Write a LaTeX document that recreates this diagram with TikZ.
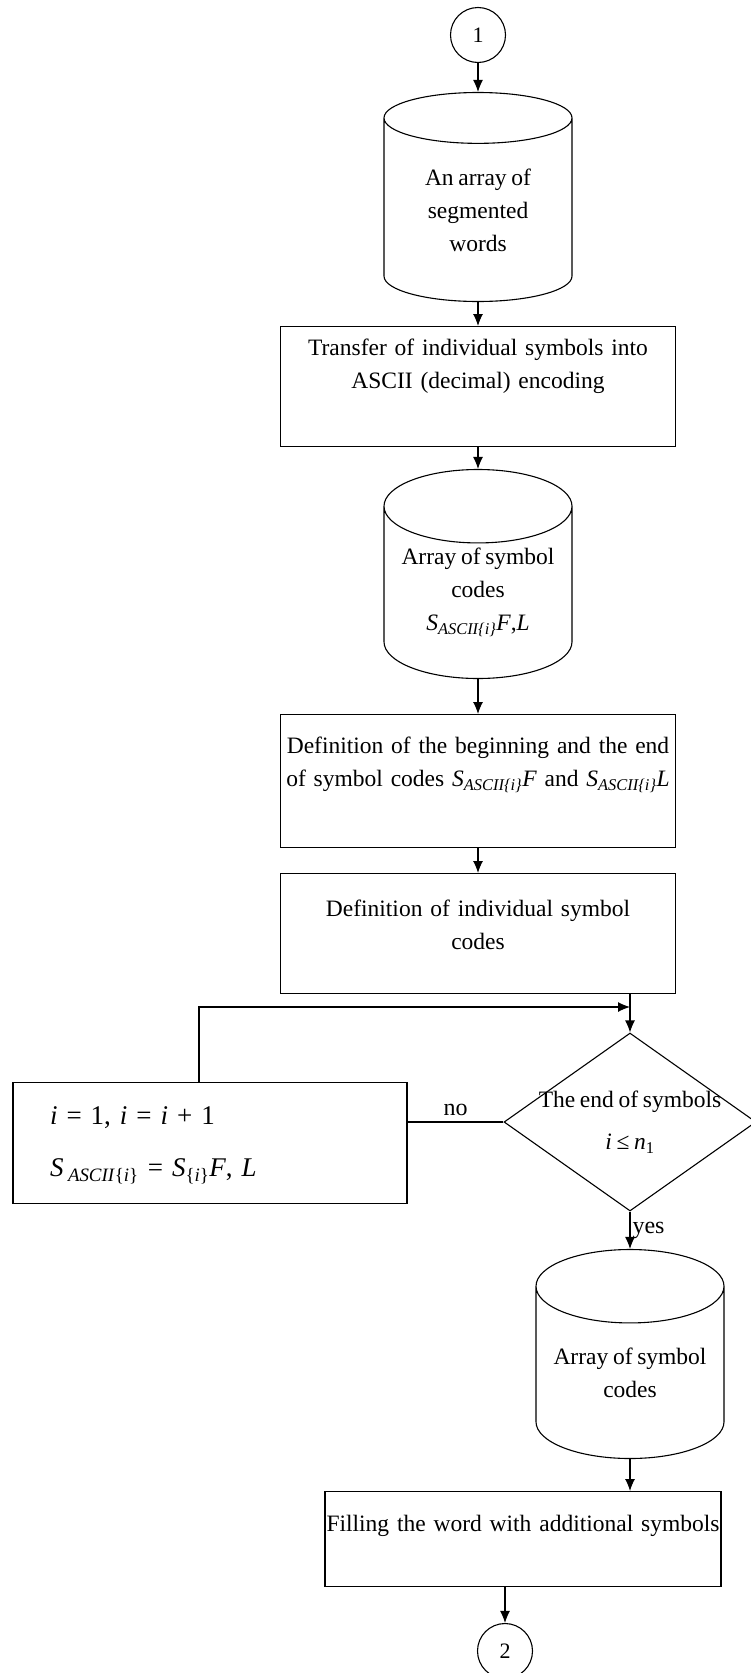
\documentclass[tikz,border=0pt]{standalone}
\usepackage{fontspec}
\setmainfont{Liberation Serif}[WordSpace=0.8]
\usetikzlibrary{shapes.geometric, positioning, arrows.meta}

\newcommand{\Sasc}{\textit{S}\textsubscript{\textit{ASCII\{i\}}}}

\begin{document}
\begin{tikzpicture}[
    x=1pt, y=-1pt,
    >={Latex[length=12pt, width=10pt]},
    line width=1.1pt,
    font=\fontsize{23.5}{33}\selectfont,
    connector/.style={
        draw, circle, minimum size=55pt, inner sep=0pt,
        font=\fontsize{22}{26}\selectfont
    },
    storage/.style={
        draw, cylinder, shape border rotate=90, aspect=0.48, anchor=shape center,
        minimum width=188pt, minimum height=209pt, inner sep=0pt, align=center
    },
    process/.style={
        draw, rectangle, anchor=north, minimum width=395pt,
        text width=395pt, align=center, inner xsep=0pt, inner ysep=0pt
    },
    decision/.style={
        draw, diamond, minimum width=252pt, minimum height=178pt, inner sep=0pt
    },
    flowtag/.style={font=\fontsize{24}{26}\selectfont, inner sep=2pt}
]

\useasboundingbox (0,0) rectangle (750,1673);

% -------------------------
% Main column
% -------------------------

% 1. Entry connector
\node[connector] (in) at (478,35) {1};

% 2. Segmented words
\node[storage] (words) at (478,197) {An array of\\ segmented\\ words};

% 3. ASCII encoding
\node[process, text height=29pt, text depth=91pt] (ascii) at (478,326) {%
    Transfer of individual symbols into\\ ASCII (decimal) encoding};

% 4. Symbol codes
\node[storage] (codes) at (478,574) {Array of symbol\\ codes\\ \Sasc\textit{F},\textit{L}};

% 5. Beginning and end
\node[process, text height=39pt, text depth=94pt] (bounds) at (478,714) {%
    Definition of the beginning and the end\\
    of symbol codes \Sasc\textit{F} and \Sasc\textit{L}};

% 6. Individual codes
\node[process, text height=43pt, text depth=77pt] (single) at (478,873) {%
    Definition of individual symbol\\ codes};

% -------------------------
% Loop over the symbols
% -------------------------

% 7. Check
\node[decision] (check) at (630,1122) {\makebox[0pt]{\begin{tabular}{@{}c@{}}
    The end of symbols\\[9pt] \textit{i} ≤ \textit{n}\textsubscript{1}
\end{tabular}}};

% 8. Counter update (left)
\node[process, font=\fontsize{27}{33}\selectfont, minimum width=394pt,
      text width=320pt, inner xsep=37pt, align=left,
      text height=42pt, text depth=79pt] (update) at (210,1082) {%
    \textit{i} = 1, \textit{i} = \textit{i} + 1\\[19pt]
    \textit{S}\,\textsubscript{\textit{ASCII}\{\textit{i}\}} = \textit{S}\textsubscript{\{\textit{i}\}}\textit{F}, \textit{L}};

% 9. Result codes
\node[storage] (result) at (630,1354) {Array of symbol\\ codes};

% 10. Padding
\node[process, minimum width=396pt, text width=430pt, inner xsep=-17pt,
      text height=40pt, text depth=55pt] (fill) at (523,1491) {%
    Filling the word with additional symbols};

% 11. Exit connector
\node[connector] (out) at (505,1651) {2};

% -------------------------
% Connections
% -------------------------
\draw[->] (in) -- (words);
\draw[->] (words) -- (ascii);
\draw[->] (ascii) -- (codes);
\draw[->] (codes) -- (bounds);
\draw[->] (bounds) -- (single);

\coordinate (merge) at (630,1007);
\draw[->] (single.south -| check.north) -- (check.north);
\draw (check.west) -- node[above=4pt, flowtag] {no} (check.west -| update.east);
\draw[->] ([xshift=-11pt]update.north) |- (merge);

\draw[->] (check.south) -- node[right, flowtag] {yes} (result);
\draw[->] (result) -- (result |- fill.north);
\draw[->] (out.north |- fill.south) -- (out.north);

\end{tikzpicture}
\end{document}
